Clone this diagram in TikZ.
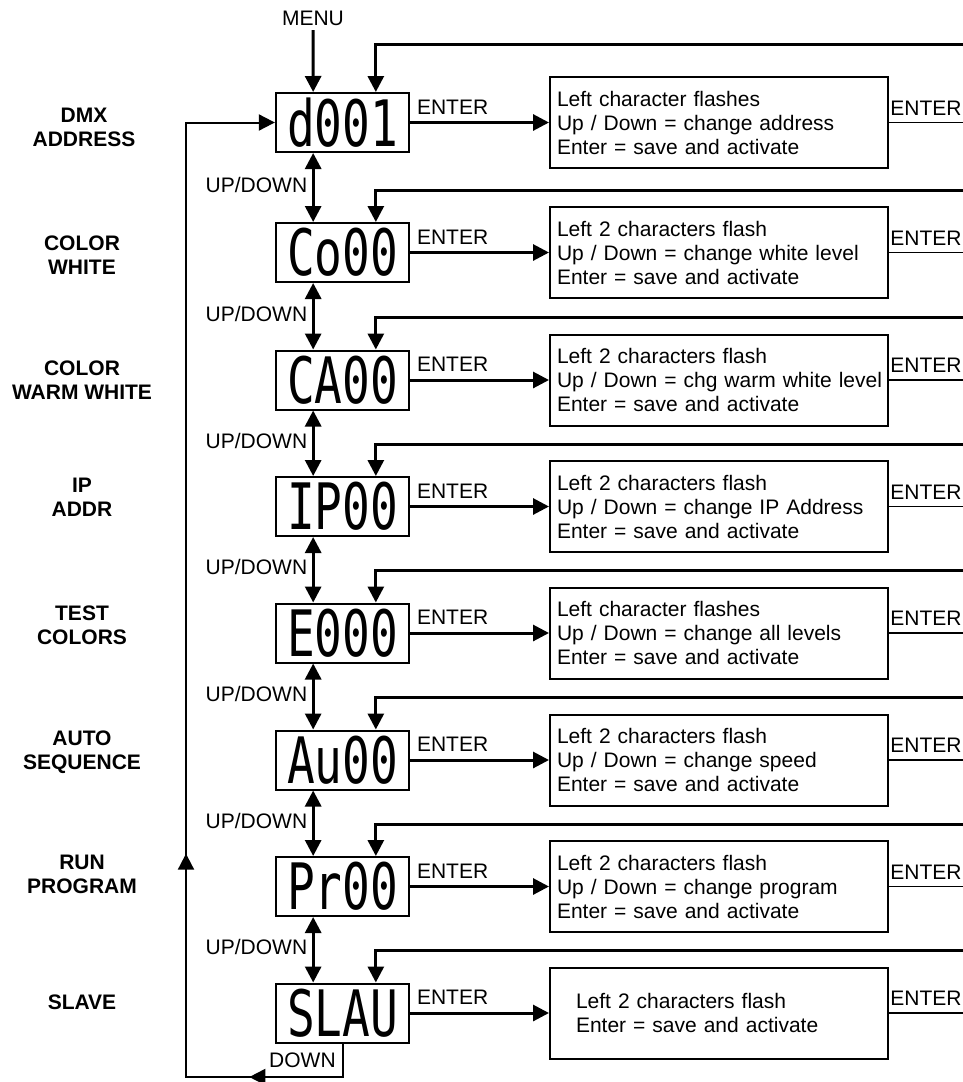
\documentclass[tikz,border=0pt]{standalone}
\usepackage{fontspec}
\usepackage{graphicx}
\setmainfont{Liberation Sans}
\newfontfamily\segfont{DejaVu Sans Mono}
\usetikzlibrary{arrows.meta, decorations.markings}
\tikzset{
  every picture/.style={font=\fontsize{15.75pt}{18pt}\selectfont, >={Triangle[length=12pt, width=12pt]}},
  arrow/.style={->, line width=2.25pt},
  dblarrow/.style={<->, line width=2.25pt},
  thinline/.style={line width=1.1pt},
  disp/.style={draw, line width=1.5pt, minimum width=100pt, minimum height=44.25pt, inner sep=0pt},
  info/.style={draw, line width=1.5pt, minimum height=68.25pt, text width=243pt, inner xsep=5.25pt, align=left},
  rowlabel/.style={font=\fontsize{15.75pt}{18pt}\selectfont\bfseries, align=center},
  keylabel/.style={anchor=south west, inner sep=0pt, xshift=4pt, yshift=5pt},
  loopline/.style={->, line width=1.5pt, postaction={decorate},
    decoration={markings, mark=at position 95pt with {\arrow{>}}, mark=at position 310pt with {\arrow{>}}}},
}
\newcommand{\segtext}[1]{\scalebox{0.72}[1]{\fontsize{48pt}{48pt}\selectfont\segfont #1}}

\begin{document}
\begin{tikzpicture}[x=0.75pt, y=-0.75pt]
  \useasboundingbox (0,0) rectangle (963,1082);
  \clip (0,0) rectangle (963,1082);
  % menu names
  \node[rowlabel] at (84,127) {DMX\\ADDRESS};
  \node[rowlabel] at (82,255) {COLOR\\WHITE};
  \node[rowlabel] at (82,380) {COLOR\\WARM WHITE};
  \node[rowlabel] at (82,497) {IP\\ADDR};
  \node[rowlabel] at (82,625) {TEST\\COLORS};
  \node[rowlabel] at (82,752) {AUTO\\SEQUENCE};
  \node[rowlabel] at (82,874) {RUN\\PROGRAM};
  \node[rowlabel] at (82,1002) {SLAVE};
  % displays
  \node[disp] (d0) at (342.5,122.5) {\segtext{d001}};
  \node[disp] (d1) at (342.5,252.5) {\segtext{Co00}};
  \node[disp] (d2) at (342.5,380) {\segtext{CA00}};
  \node[disp] (d3) at (342.5,506.5) {\segtext{IP00}};
  \node[disp] (d4) at (342.5,633) {\segtext{E000}};
  \node[disp] (d5) at (342.5,760) {\segtext{Au00}};
  \node[disp] (d6) at (342.5,886.5) {\segtext{Pr00}};
  \node[disp] (d7) at (342.5,1013) {\segtext{SLAU}};
  % what the keys do
  \node[info] (b0) at (719,122.5) {Left character flashes\\Up / Down = change address\\Enter = save and activate};
  \node[info] (b1) at (719,252.5) {Left 2 characters flash\\Up / Down = change white level\\Enter = save and activate};
  \node[info] (b2) at (719,380) {Left 2 characters flash\\\mbox{Up / Down = chg warm white level}\\Enter = save and activate};
  \node[info] (b3) at (719,506.5) {Left 2 characters flash\\Up / Down = change IP Address\\Enter = save and activate};
  \node[info] (b4) at (719,633) {Left character flashes\\Up / Down = change all levels\\Enter = save and activate};
  \node[info] (b5) at (719,760) {Left 2 characters flash\\Up / Down = change speed\\Enter = save and activate};
  \node[info] (b6) at (719,886.5) {Left 2 characters flash\\Up / Down = change program\\Enter = save and activate};
  \node[info, text width=214.5pt, inner xsep=19.5pt] (b7) at (719,1013) {Left 2 characters flash\\Enter = save and activate};

  \node (menu) at (313,18) {MENU};
  \draw[arrow] (menu) -- ([xshift=-22pt]d0.north);
  \foreach \k/\y/\fy in {0/122.5/44, 1/252.5/190, 2/380/317.5, 3/506.5/444, 4/633/570.5, 5/760/697.5, 6/886.5/824, 7/1013/950.5} {
    \coordinate (r\k) at (963,\y);
    \coordinate (f\k) at (963,\fy);
    \draw[arrow] (d\k) -- node[pos=0, keylabel] {ENTER} (b\k);
    \draw[thinline] (b\k) -- node[pos=0, keylabel, xshift=-3.5pt] {ENTER} (r\k);
    \draw[arrow] (f\k) -| ([xshift=25pt]d\k.north);
  }
  \foreach \k [count=\n] in {0,...,6} {
    \draw[dblarrow] ([xshift=-22pt]d\k.south) -- node[left, yshift=2pt] {UP/DOWN} ([xshift=-22pt]d\n.north);
  }
  % back to the top
  \coordinate (lb) at (186,1077);
  \draw[loopline] (d7.south) |- node[pos=0.25, left, xshift=-1pt] {DOWN} (lb) |- (d0.west);
\end{tikzpicture}
\end{document}
